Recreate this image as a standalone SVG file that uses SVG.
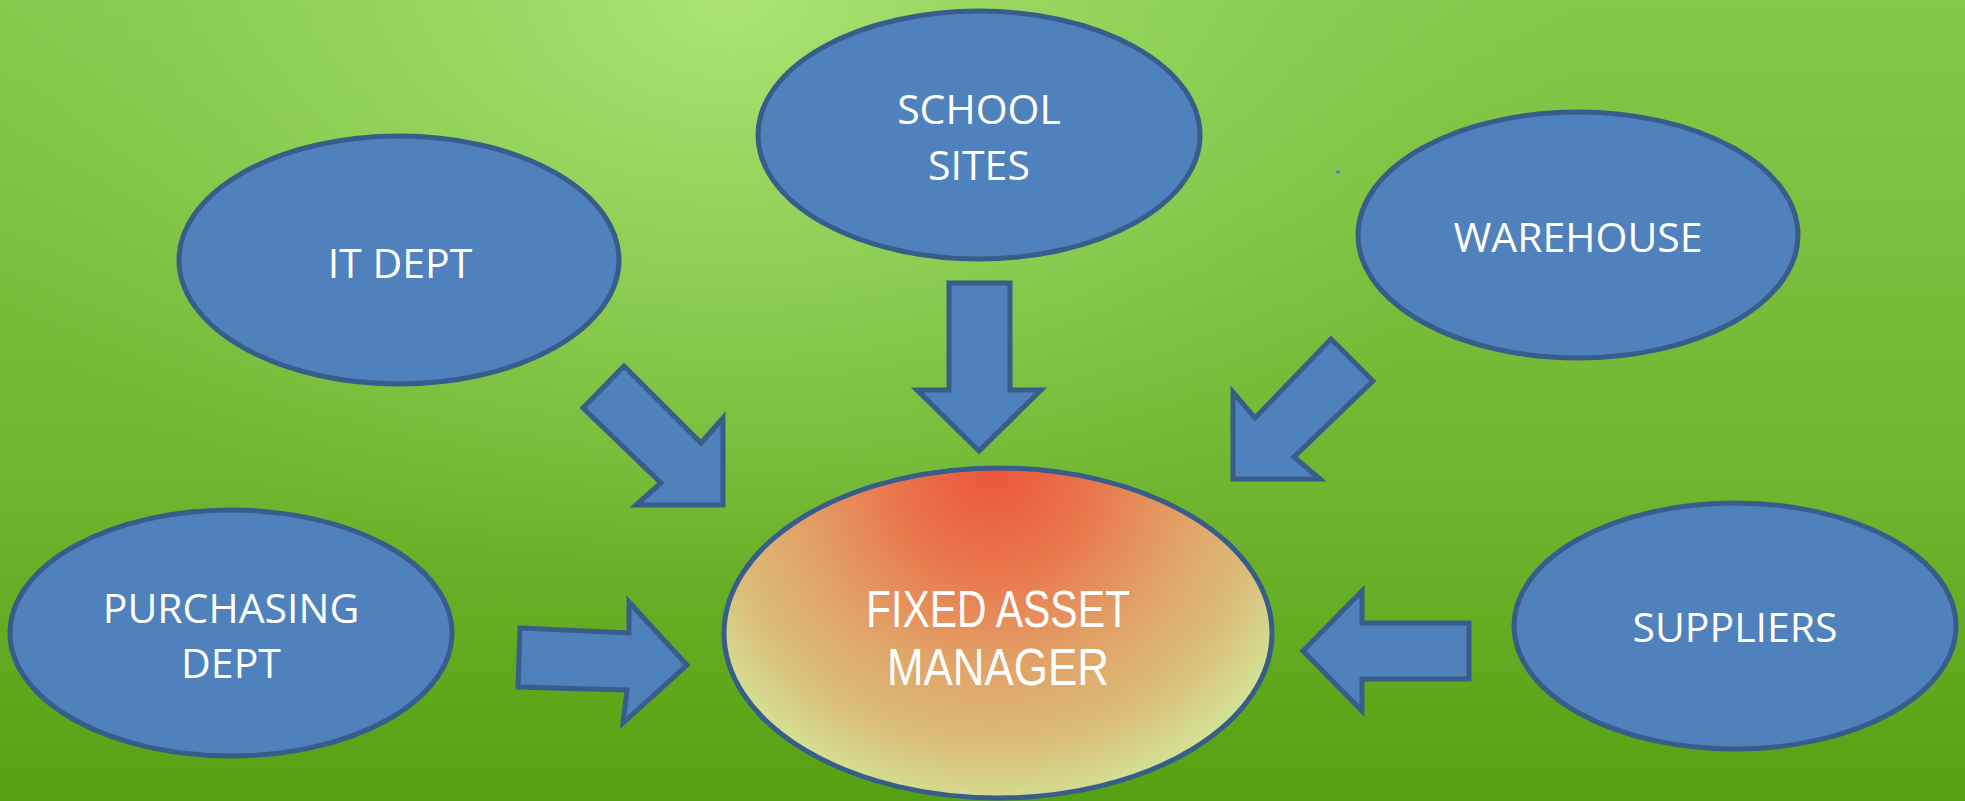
<svg xmlns="http://www.w3.org/2000/svg" width="1965" height="801" viewBox="0 0 1965 801">
  <defs>
    <linearGradient id="bgBase" x1="0" y1="0" x2="0" y2="1">
      <stop offset="0" stop-color="#84c84a"/>
      <stop offset="0.6" stop-color="#70b630"/>
      <stop offset="1" stop-color="#56a112"/>
    </linearGradient>
    <radialGradient id="bgGlow" gradientUnits="userSpaceOnUse" cx="0" cy="0" r="1"
                    gradientTransform="translate(730 0) scale(860 580)">
      <stop offset="0" stop-color="#abe474" stop-opacity="1"/>
      <stop offset="0.5" stop-color="#9ad862" stop-opacity="0.6"/>
      <stop offset="1" stop-color="#8ccd52" stop-opacity="0"/>
    </radialGradient>
    <radialGradient id="core" gradientUnits="userSpaceOnUse" cx="992" cy="470" r="335" fx="992" fy="470">
      <stop offset="0" stop-color="#ec563a"/>
      <stop offset="0.3" stop-color="#ea764c"/>
      <stop offset="0.6" stop-color="#e1a468"/>
      <stop offset="0.83" stop-color="#dabe7a"/>
      <stop offset="1" stop-color="#d3df92"/>
    </radialGradient>
    <style>
      .node { fill: #4f81bd; stroke: #385d8a; stroke-width: 5; }
      .arrow { fill: #4f81bd; stroke: #385d8a; stroke-width: 5; stroke-linejoin: miter; }
      .label { fill: #ffffff; font-family: "Open Sans", "Liberation Sans", sans-serif; font-size: 41px; text-anchor: middle; }
      .big { font-family: "Liberation Sans", "Open Sans", sans-serif; font-size: 51px; }
    </style>
  </defs>

  <!-- background -->
  <rect x="0" y="0" width="1965" height="801" fill="url(#bgBase)"/>
  <rect x="0" y="0" width="1965" height="801" fill="url(#bgGlow)"/>
  <rect x="1336" y="170.5" width="4" height="3" fill="#4f81bd"/>

  <!-- connectors: block arrows pointing at the centre -->
  <g id="connectors">
    <polygon class="arrow" points="624,366 701,443 723,418 723,505 636,505 661,483 583,408"/>
    <polygon class="arrow" points="949,283 1010,283 1010,390 1041,390 979,451 917,390 949,390"/>
    <polygon class="arrow" points="1331,339 1373,381 1294,457 1320,479 1233,479 1233,392 1255,418"/>
    <polygon class="arrow" points="520,628 629,633 629,602 687,665 623,723 627,690 518,687"/>
    <polygon class="arrow" points="1303,651 1362,591 1362,623 1469,623 1469,679 1362,679 1362,711"/>
  </g>

  <g id="school-sites">
    <ellipse class="node" cx="979" cy="135" rx="221" ry="124"/>
    <text class="label" x="979" y="124">SCHOOL</text>
    <text class="label" x="979" y="180">SITES</text>
  </g>

  <g id="it-dept">
    <ellipse class="node" cx="399" cy="260" rx="220" ry="124"/>
    <text class="label" x="400" y="278">IT DEPT</text>
  </g>

  <g id="warehouse">
    <ellipse class="node" cx="1578" cy="235" rx="220" ry="123"/>
    <text class="label" x="1578" y="252">WAREHOUSE</text>
  </g>

  <g id="purchasing-dept">
    <ellipse class="node" cx="231" cy="633" rx="221" ry="123"/>
    <text class="label" x="231" y="623">PURCHASING</text>
    <text class="label" x="231" y="678">DEPT</text>
  </g>

  <g id="suppliers">
    <ellipse class="node" cx="1735" cy="626" rx="221" ry="123"/>
    <text class="label" x="1735" y="642">SUPPLIERS</text>
  </g>

  <g id="fixed-asset-manager">
    <ellipse cx="998" cy="633" rx="274" ry="165" fill="url(#core)" stroke="#385d8a" stroke-width="5"/>
    <text class="label big" x="998" y="627" textLength="264" lengthAdjust="spacingAndGlyphs">FIXED ASSET</text>
    <text class="label big" x="998" y="685" textLength="222" lengthAdjust="spacingAndGlyphs">MANAGER</text>
  </g>
</svg>
